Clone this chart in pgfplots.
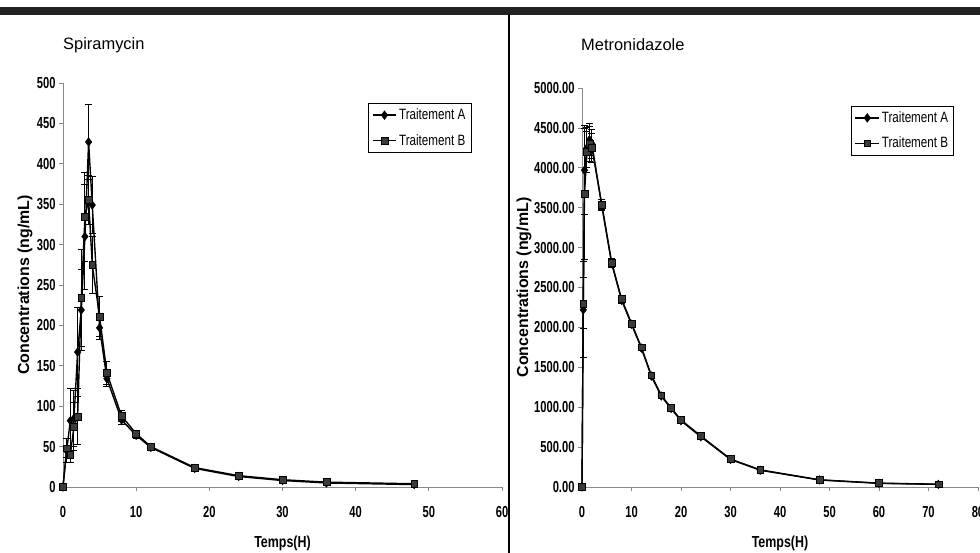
\documentclass[border=0pt]{standalone}
\usepackage{pgfplots}
\pgfplotsset{compat=1.18}
\usepackage{fontspec}
\setmainfont{Liberation Sans}
\newfontfamily\cond{Liberation Sans}[FakeStretch=0.78]
\newfontfamily\condx{Liberation Sans}[FakeStretch=0.7]
\definecolor{bargray}{HTML}{222222}
\definecolor{axgray}{HTML}{8A8A8A}
\definecolor{sqgray}{HTML}{3A3A3A}

\pgfplotsset{
  pkstyle/.style={
    scale only axis,
    axis x line*=bottom, axis y line*=left,
    axis line style={axgray, line width=0.7pt},
    tick style={axgray, line width=0.7pt},
    tick align=outside,
    major tick length=4bp,
    clip=false,
    ticklabel style={font=\condx\bfseries\fontsize{16}{16}\selectfont, text=black},
    xticklabel style={yshift=-12bp},
    /pgf/number format/assume math mode=true,
    every axis x label/.style={at={(rel axis cs:0.5,0)}, anchor=center, yshift=-56bp,
       font=\cond\bfseries\fontsize{16}{16}\selectfont},
    every axis y label/.style={at={(rel axis cs:0,0.5)}, rotate=90, anchor=center,
       font=\bfseries\fontsize{16}{16}\selectfont},
    legend style={draw=black, line width=0.6pt, font=\cond\fontsize{15}{15}\selectfont,
       anchor=north west, row sep=9bp, inner sep=3.5bp, cells={anchor=west}},
    legend image code/.code={\draw[mark repeat=2,mark phase=2] plot coordinates {(0cm,0cm) (0.42cm,0cm) (0.84cm,0cm)};},
    error bars/y dir=both, error bars/y explicit,
    error bars/error mark options={rotate=90, mark size=3.5bp, line width=1pt, black},
    error bars/error bar style={line width=1pt, black},
  },
  serA/.style={black, line width=1.4pt, mark=diamond*, mark size=4.3bp,
     mark options={fill=black, draw=black, line width=0.5pt}},
  serB/.style={black, line width=1.4pt, mark=square*, mark size=3.4bp,
     mark options={fill=sqgray, draw=black, line width=0.6pt}},
}

\begin{document}
\begin{tikzpicture}
\useasboundingbox (0,0) rectangle (980bp,553bp);
\fill[white] (0,0) rectangle (980bp,553bp);
\fill[bargray] (0,538bp) rectangle (980bp,546bp);
\draw[black, line width=2bp] (509bp,0) -- (509bp,538bp);
\node[anchor=west, inner sep=0pt, font=\fontsize{16.5}{16.5}\selectfont] at (63bp,508bp) {Spiramycin};
\node[anchor=west, inner sep=0pt, font=\fontsize{16.5}{16.5}\selectfont] at (581bp,508bp) {Metronidazole};

\begin{axis}[pkstyle,
  at={(63bp,66bp)}, anchor=south west,
  width=439bp, height=404bp,
  xmin=0, xmax=60, ymin=0, ymax=500,
  xtick={0,10,...,60}, ytick={0,50,...,500},
  xlabel={Temps(H)}, ylabel={Concentrations (ng/mL)},
  every axis y label/.append style={yshift=38bp},
  legend style={at={(rel axis cs:0.695,0.95)}},
]
\addplot+[serA] table[x=t, y=c, y error=e] {
t c e
0 0 0
0.5 45 15
1 82 40
1.5 85 35
2 167 55
2.5 219 50
3 310 65
3.5 427 46
4 349 35
5 197 15
6 134 10
8 83 6
10 64 4
12 49 3
18 23 2
24 13 1.5
30 8 1
36 5 1
48 3 1
};
\addlegendentry{Traitement A}
\addplot+[serB] table[x=t, y=c, y error=e] {
t c e
0 0 0
0.5 48 12
1 40 10
1.5 75 30
2 87 35
2.5 234 60
3 334 55
3.5 355 30
4 275 35
5 211 25
6 141 14
8 88 7
10 66 4
12 50 3
18 24 2
24 14 1.5
30 9 1
36 6 1
48 4 1
};
\addlegendentry{Traitement B}
\end{axis}

\begin{axis}[pkstyle,
  at={(582bp,66bp)}, anchor=south west,
  width=396bp, height=399bp,
  xmin=0, xmax=80, ymin=0, ymax=5000,
  xtick={0,10,...,80}, ytick={0,500,...,5000},
  yticklabel style={/pgf/number format/.cd, fixed, fixed zerofill, precision=2, 1000 sep={}},
  xlabel={Temps(H)}, ylabel={Concentrations (ng/mL)},
  every axis y label/.append style={yshift=58bp},
  legend style={at={(rel axis cs:0.679,0.955)}},
]
\addplot+[serA] table[x=t, y=c, y error=e] {
t c e
0 0 0
0.25 2220 600
0.5 3970 560
1 4250 250
1.5 4350 200
2 4300 180
4 3520 60
6 2800 50
8 2340 40
10 2040 35
12 1740 30
14 1390 25
16 1140 20
18 985 20
20 830 15
24 630 15
30 345 10
36 210 8
48 88 5
60 46 3
72 33 2
};
\addlegendentry{Traitement A}
\addplot+[serB] table[x=t, y=c, y error=e] {
t c e
0 0 0
0.25 2300 320
0.5 3670 820
1 4200 260
1.5 4300 220
2 4250 180
4 3540 60
6 2810 50
8 2355 40
10 2050 35
12 1750 30
14 1400 25
16 1150 20
18 990 20
20 840 15
24 640 15
30 350 10
36 215 8
48 90 5
60 48 3
72 35 2
};
\addlegendentry{Traitement B}
\end{axis}
\end{tikzpicture}
\end{document}
